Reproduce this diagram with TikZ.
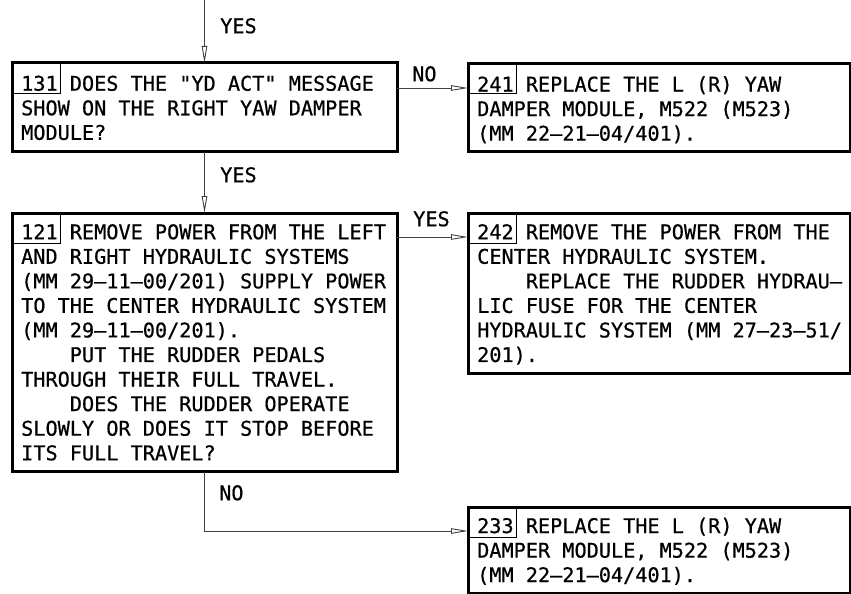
\documentclass[tikz,border=0pt]{standalone}
\usepackage{fontspec}
\newfontfamily\monofnt[FakeBold=0.6]{DejaVu Sans Mono}
\usetikzlibrary{arrows.meta,calc}
\newcommand{\ind}{\phantom{XXXX}}
\begin{document}
\begin{tikzpicture}[x=1pt,y=-1pt,
  box/.style={draw, line width=3pt, anchor=north west, inner sep=0pt, outer sep=0pt},
  numbox/.style={draw, line width=0.8pt, anchor=north west, inner sep=0pt, outer sep=0pt,
    minimum width=48pt, minimum height=30pt},
  txt/.style={anchor=north west, inner sep=0pt, align=left,
    font=\monofnt\fontsize{20.2}{24.56}\selectfont},
  lbl/.style={anchor=north west, inner sep=0pt, font=\monofnt\fontsize{20.2}{24.56}\selectfont},
  conn/.style={draw=black!75, line width=0.9pt, -{Triangle[open, length=17pt, width=5.5pt]}}
]
\useasboundingbox (0,0) rectangle (851,594);

% boxes
\node[box, minimum width=385pt, minimum height=88.5pt] (b131) at (12,63) {};
\node[box, minimum width=382pt, minimum height=87.5pt] (b241) at (468,63.5) {};
\node[box, minimum width=385pt, minimum height=258.5pt] (b121) at (12,213) {};
\node[box, minimum width=382pt, minimum height=160pt] (b242) at (468,213) {};
\node[box, minimum width=382pt, minimum height=86pt] (b233) at (468,507) {};

% number boxes
\node[numbox] (n131) at (b131.north west) {};
\node[numbox] (n241) at (b241.north west) {};
\node[numbox] (n121) at (b121.north west) {};
\node[numbox] (n242) at (b242.north west) {};
\node[numbox] (n233) at (b233.north west) {};

% texts
\node[txt] (t131) at ($(b131.north west)+(9,12.5)$)
  {131 DOES THE "YD ACT" MESSAGE\\SHOW ON THE RIGHT YAW DAMPER\\MODULE?};
\node[txt] (t241) at ($(b241.north west)+(9,12.5)$)
  {241 REPLACE THE L (R) YAW\\DAMPER MODULE, M522 (M523)\\(MM 22–21–04/401).};
\node[txt] (t121) at ($(b121.north west)+(9,11)$)
  {121 REMOVE POWER FROM THE LEFT\\AND RIGHT HYDRAULIC SYSTEMS\\(MM 29–11–00/201) SUPPLY POWER\\TO THE CENTER HYDRAULIC SYSTEM\\(MM 29–11–00/201).\\\ind PUT THE RUDDER PEDALS\\THROUGH THEIR FULL TRAVEL.\\\ind DOES THE RUDDER OPERATE\\SLOWLY OR DOES IT STOP BEFORE\\ITS FULL TRAVEL?};
\node[txt] (t242) at ($(b242.north west)+(9,11)$)
  {242 REMOVE THE POWER FROM THE\\CENTER HYDRAULIC SYSTEM.\\\ind REPLACE THE RUDDER HYDRAU–\\LIC FUSE FOR THE CENTER\\HYDRAULIC SYSTEM (MM 27–23–51/\\201).};
\node[txt] (t233) at ($(b233.north west)+(9,10.5)$)
  {233 REPLACE THE L (R) YAW\\DAMPER MODULE, M522 (M523)\\(MM 22–21–04/401).};

% labels
\node[lbl] (l1) at (220,18) {YES};
\node[lbl] (l2) at (220,167) {YES};
\node[lbl] (l3) at (412,66) {NO};
\node[lbl] (l4) at (413,211) {YES};
\node[lbl] (l5) at (219,485) {NO};

% connectors
\coordinate (start) at (204.5,0);
\draw[conn] (start) -- (b131.north);
\draw[conn] (b131.south) -- (b121.north);
\coordinate (p1) at ($(b131.north east)+(0,25)$);
\draw[conn] (p1) -- (p1 -| b241.west);
\coordinate (p2) at ($(b121.north east)+(0,24)$);
\draw[conn] (p2) -- (p2 -| b242.west);
\coordinate (p3) at ($(b233.north west)+(0,24)$);
\draw[conn] (b121.south) |- (p3);
\end{tikzpicture}
\end{document}
